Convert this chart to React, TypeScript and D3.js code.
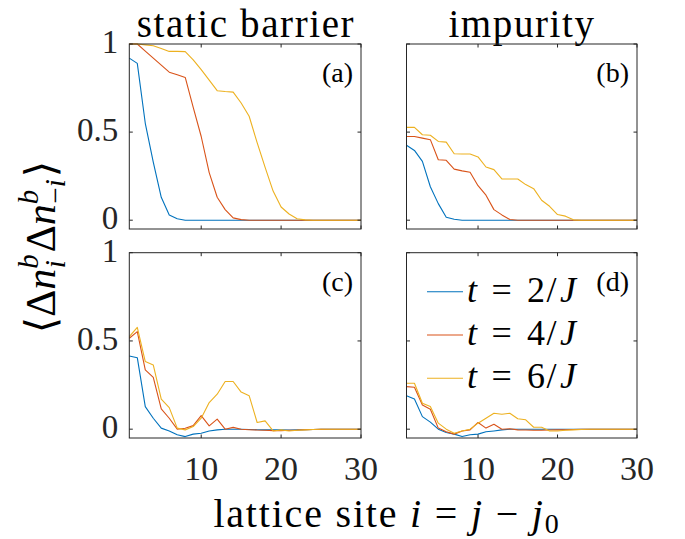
import React from 'react';
import * as d3 from 'd3';

// lattice sites 1..30
const sites = [1, 2, 3, 4, 5, 6, 7, 8, 9, 10, 11, 12, 13, 14, 15, 16, 17, 18, 19, 20, 21, 22, 23, 24, 25, 26, 27, 28, 29, 30];

const seriesNames = ['t = 2/J', 't = 4/J', 't = 6/J'];
const seriesTimes = ['2', '4', '6'];
const colors = ['#0072BD', '#D95319', '#EDB120'];

// (a) static barrier
const panelA_t2 = [0.92, 0.89, 0.55, 0.33, 0.13, 0.03, 0.008, 0, 0, 0, 0, 0, 0, 0, 0, 0, 0, 0, 0, 0, 0, 0, 0, 0, 0, 0, 0, 0, 0, 0];
const panelA_t4 = [1.0, 1.0, 0.96, 0.92, 0.88, 0.84, 0.825, 0.81, 0.64, 0.475, 0.27, 0.13, 0.06, 0.013, 0.003, 0, 0, 0, 0, 0, 0, 0, 0, 0, 0, 0, 0, 0, 0, 0];
const panelA_t6 = [1.0, 1.0, 0.995, 0.99, 0.975, 0.958, 0.958, 0.957, 0.91, 0.855, 0.795, 0.735, 0.73, 0.727, 0.665, 0.59, 0.44, 0.3, 0.165, 0.075, 0.035, 0.008, 0.002, 0, 0, 0, 0, 0, 0, 0];

// (b) impurity
const panelB_t2 = [0.425, 0.396, 0.334, 0.19, 0.094, 0.017, 0.005, 0, 0, 0, 0, 0, 0, 0, 0, 0, 0, 0, 0, 0, 0, 0, 0, 0, 0, 0, 0, 0, 0, 0];
const panelB_t4 = [0.475, 0.475, 0.466, 0.457, 0.343, 0.34, 0.29, 0.28, 0.272, 0.196, 0.142, 0.06, 0.03, 0.004, 0, 0, 0, 0, 0, 0, 0, 0, 0, 0, 0, 0, 0, 0, 0, 0];
const panelB_t6 = [0.527, 0.527, 0.485, 0.482, 0.447, 0.443, 0.377, 0.376, 0.376, 0.359, 0.302, 0.287, 0.234, 0.234, 0.234, 0.202, 0.179, 0.113, 0.079, 0.032, 0.023, 0.002, 0, 0, 0, 0, 0, 0, 0, 0];

// (c) static barrier, lower row
const panelC_t2 = [0.415, 0.405, 0.128, 0.062, 0.006, -0.01, -0.032, -0.042, -0.028, -0.023, -0.01, -0.004, 0, 0, 0, -0.002, -0.003, -0.004, -0.004, -0.004, -0.005, -0.004, -0.003, -0.002, -0.001, 0, 0, 0, 0, 0];
const panelC_t4 = [0.515, 0.553, 0.336, 0.294, 0.115, 0.062, 0.0, 0.005, 0.02, 0.077, 0.019, 0.057, 0.0, 0.01, 0.0, -0.003, -0.005, -0.006, -0.008, -0.008, -0.006, -0.005, -0.003, -0.002, -0.001, 0, 0, 0, 0, 0];
const panelC_t6 = [0.524, 0.577, 0.383, 0.364, 0.17, 0.122, 0.006, -0.004, 0.015, 0.062, 0.151, 0.198, 0.27, 0.27, 0.21, 0.19, 0.038, 0.047, -0.01, -0.004, -0.01, -0.006, -0.004, -0.002, 0, 0, 0, 0, 0, 0];

// (d) impurity, lower row
const panelD_t2 = [0.19, 0.171, 0.071, 0.04, 0.0, -0.019, -0.028, -0.042, -0.032, -0.028, -0.015, -0.01, -0.004, 0, 0, 0, 0, 0, 0, 0, 0, 0, 0, 0, 0, 0, 0, 0, 0, 0];
const panelD_t4 = [0.241, 0.238, 0.137, 0.113, 0.006, -0.015, -0.028, -0.01, -0.004, 0.038, 0.006, 0.028, 0.0, 0.002, -0.004, -0.005, -0.006, -0.006, -0.005, -0.004, -0.003, -0.002, -0.001, 0, 0, 0, 0, 0, 0, 0];
const panelD_t6 = [0.26, 0.26, 0.147, 0.128, 0.034, 0.0, -0.023, -0.01, 0.0, 0.034, 0.062, 0.09, 0.085, 0.09, 0.059, 0.053, 0.011, 0.011, -0.01, -0.01, -0.006, -0.004, -0.002, 0, 0, 0, 0, 0, 0, 0];

const xTicks = [10, 20, 30];
const yTicks = [0, 0.5, 1];
const yTickLabels = ['0', '0.5', '1'];
const titles = ['static barrier', 'impurity'];

const serif = 'Liberation Serif, DejaVu Serif, serif';
const axisColor = '#262626';

const cols = [
  { x0: 129.3, x1: 361 },
  { x0: 406.5, x1: 637 },
];
const rows = [
  { y0: 44, y1: 229 },
  { y0: 252.7, y1: 438 },
];

const Panel = ({ col, row, series, label, xLabels, yLabels, legend }) => {
  const { x0, x1 } = cols[col];
  const { y0, y1 } = rows[row];
  const x = d3.scaleLinear().domain([1, 30]).range([x0, x1]);
  const y = d3.scaleLinear().domain([-0.05, 1]).range([y1, y0]);
  const line = d3
    .line<number>()
    .x((d, i) => x(sites[i]))
    .y(d => y(d));
  const tl = 3.5;

  return (
    <g>
      {series.map((s, k) => (
        <path key={k} d={line(s) || ''} fill="none" stroke={colors[k]} strokeWidth={1.1} strokeLinejoin="round" />
      ))}
      <rect x={x0} y={y0} width={x1 - x0} height={y1 - y0} fill="none" stroke={axisColor} strokeWidth={1} />
      {xTicks.map(t => (
        <g key={'x' + t} stroke={axisColor} strokeWidth={1}>
          <line x1={x(t)} x2={x(t)} y1={y1} y2={y1 - tl} />
          <line x1={x(t)} x2={x(t)} y1={y0} y2={y0 + tl} />
        </g>
      ))}
      {yTicks.map(t => (
        <g key={'y' + t} stroke={axisColor} strokeWidth={1}>
          <line x1={x0} x2={x0 + tl} y1={y(t)} y2={y(t)} />
          <line x1={x1} x2={x1 - tl} y1={y(t)} y2={y(t)} />
        </g>
      ))}
      {xLabels &&
        xTicks.map(t => (
          <text key={'xl' + t} x={x(t)} y={y1 + 42} textAnchor="middle" fontFamily={serif} fontSize={34} fill={axisColor}>
            {t}
          </text>
        ))}
      {yLabels &&
        yTicks.map((t, i) => (
          <text key={'yl' + t} x={x0 - 11} y={y(t) + 9} textAnchor="end" fontFamily={serif} fontSize={33} fill={axisColor}>
            {yTickLabels[i]}
          </text>
        ))}
      {legend &&
        seriesNames.map((name, k) => {
          const ly = y0 + 39 + k * 43.3;
          const tx = x0 + 60.5;
          return (
            <g key={name} fontFamily={serif} fontSize={36} fill="#000">
              <line x1={x0 + 20.5} x2={x0 + 56.5} y1={ly} y2={ly} stroke={colors[k]} strokeWidth={1.1} />
              <text x={tx} y={ly + 10} fontStyle="italic">t</text>
              <text x={tx + 24.5} y={ly + 10}>=</text>
              <text x={tx + 60} y={ly + 10}>{seriesTimes[k]}</text>
              <text x={tx + 79.5} y={ly + 10}>/</text>
              <text x={tx + 93} y={ly + 10} fontStyle="italic">J</text>
            </g>
          );
        })}
      <text x={x1 - 8} y={y0 + 38} textAnchor="end" fontFamily={serif} fontSize={28} fill="#000">
        {label}
      </text>
    </g>
  );
};

const App = () => {
  return (
    <svg width={685} height={539} style={{ position: 'absolute', left: 0, top: 0, background: '#fff' }}>
      <rect width={685} height={539} fill="#fff" />
      <text x={246} y={37} textAnchor="middle" fontFamily={serif} fontSize={39} letterSpacing={1.6}>
        {titles[0]}
      </text>
      <text x={522} y={37} textAnchor="middle" fontFamily={serif} fontSize={39} letterSpacing={1.6}>
        {titles[1]}
      </text>
      <Panel col={0} row={0} series={[panelA_t2, panelA_t4, panelA_t6]} label="(a)" xLabels={false} yLabels={true} legend={false} />
      <Panel col={1} row={0} series={[panelB_t2, panelB_t4, panelB_t6]} label="(b)" xLabels={false} yLabels={false} legend={false} />
      <Panel col={0} row={1} series={[panelC_t2, panelC_t4, panelC_t6]} label="(c)" xLabels={true} yLabels={true} legend={false} />
      <Panel col={1} row={1} series={[panelD_t2, panelD_t4, panelD_t6]} label="(d)" xLabels={true} yLabels={false} legend={true} />

      {/* y axis label */}
      <g transform="translate(55, 247) rotate(-90)">
        <text x={0} y={0} textAnchor="middle" fontFamily={serif} fontSize={42} fill="#000">
          <tspan>⟨Δ</tspan>
          <tspan fontStyle="italic">n</tspan>
          <tspan fontStyle="italic" fontSize={29} dy={-17}>b</tspan>
          <tspan fontStyle="italic" fontSize={29} dx={-14} dy={27}>i</tspan>
          <tspan dx={8} dy={-10}>Δ</tspan>
          <tspan fontStyle="italic">n</tspan>
          <tspan fontStyle="italic" fontSize={29} dy={-17}>b</tspan>
          <tspan fontSize={29} dx={-14} dy={27}>−</tspan>
          <tspan fontStyle="italic" fontSize={29}>i</tspan>
          <tspan dx={2} dy={-10}>⟩</tspan>
        </text>
      </g>

      {/* x axis label */}
      <text x={387} y={526.7} textAnchor="middle" fontFamily={serif} fontSize={40} fill="#000" letterSpacing={1.8}>
        <tspan>lattice site </tspan>
        <tspan fontStyle="italic">i</tspan>
        <tspan> = </tspan>
        <tspan fontStyle="italic">j</tspan>
        <tspan> − </tspan>
        <tspan fontStyle="italic">j</tspan>
        <tspan fontSize={28} dy={6}>0</tspan>
      </text>
    </svg>
  );
};

export default App;
